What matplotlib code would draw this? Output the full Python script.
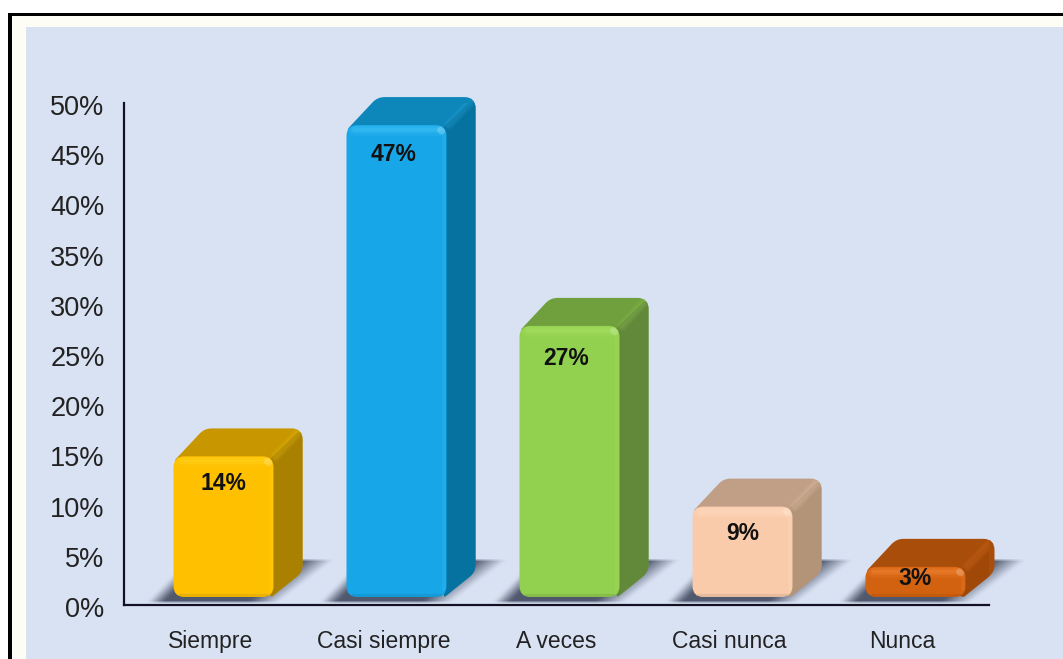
import numpy as np
import matplotlib
matplotlib.use("Agg")
import matplotlib.pyplot as plt
from matplotlib.patches import PathPatch, Rectangle
from matplotlib.path import Path
from matplotlib.transforms import ScaledTranslation

# Datos
categorias = ["Siempre", "Casi siempre", "A veces", "Casi nunca", "Nunca"]
valores = [14, 47, 27, 9, 3]
etiquetas = ["14%", "47%", "27%", "9%", "3%"]
ticks_y = [0, 5, 10, 15, 20, 25, 30, 35, 40, 45, 50]

# Colores de cada barra: frente, tapa, lateral, brillo
frente = ["#ffc000", "#17a6e8", "#92d050", "#f9cbaa", "#d2620f"]
tapa = ["#c89700", "#0d86ba", "#709f3e", "#c19f86", "#a94d0b"]
lateral = ["#a98000", "#06729f", "#62893a", "#b39479", "#a04807"]
brillo = ["#ffd21a", "#3cc0f5", "#a6e060", "#ffdcc0", "#ee8030"]
# Posición del texto respecto al borde superior y al centro del frente (px)
caida_texto = [27, 29, 33, 27, 12]
corrimiento_texto = [0, -3, -3, 0, 0]

W, H = 1063, 659
FONDO = "#d9e2f3"
BASE = 0.8        # la barra arranca un poco por encima del eje
ANCHO_PX = 100
PROF_PX = 28
DESP_PX = 13      # desplazamiento del frente respecto a la categoría

plt.rcParams["font.family"] = ["Liberation Sans", "DejaVu Sans"]

fig = plt.figure(figsize=(W / 100, H / 100), dpi=100, facecolor="white")


def fx(px):
    return px / W


def fy(py):
    return 1 - py / H


# Marco negro, franja clara y panel azul
for x0, y0, color in [(8, 13, "black"), (12, 16, "#fdfdf6"), (26, 27, FONDO)]:
    fig.add_artist(Rectangle((fx(x0), 0), 1 - fx(x0), fy(y0), transform=fig.transFigure,
                             facecolor=color, edgecolor="none", zorder=-5))

# Capa inferior en píxeles para las sombras
capa = fig.add_axes([0, 0, 1, 1], facecolor="none", zorder=1)
capa.axis("off")

ax = fig.add_axes([fx(124), fy(605), fx(865), (605 - 103) / H], facecolor="none", zorder=2)
ax.set_xlim(-0.5, 4.5)
ax.set_ylim(0, 50)
sx = 865 / 5
sy = (605 - 103) / 50


def a_px(x, y):
    return 124 + (x + 0.5) * sx, 605 - y * sy


def a_datos(px, py):
    return (px - 124) / sx - 0.5, (605 - py) / sy


def redondeado(puntos, radio):
    # Polígono con esquinas redondeadas, puntos en píxeles
    pts = [np.array(p, dtype=float) for p in puntos]
    verts, codes = [], []
    n = len(pts)
    for i in range(n):
        p, prev, sig = pts[i], pts[i - 1], pts[(i + 1) % n]
        r = radio[i] if np.iterable(radio) else radio
        a = p + (prev - p) / np.linalg.norm(prev - p) * r
        b = p + (sig - p) / np.linalg.norm(sig - p) * r
        verts.append(a)
        codes.append(Path.MOVETO if i == 0 else Path.LINETO)
        verts += [p, b]
        codes += [Path.CURVE3, Path.CURVE3]
    verts.append(verts[0])
    codes.append(Path.CLOSEPOLY)
    return Path([a_datos(*v) for v in verts], codes)


def recortar(artista, clip):
    # clip_on tiene que quedar activo para que el recorte surta efecto
    artista.set_clip_on(True)
    artista.set_clip_path(clip)


def trazo(p0, p1, color, lw, alfa_linea, z, clip):
    linea, = ax.plot(*zip(a_datos(*p0), a_datos(*p1)), color=color, lw=lw, alpha=alfa_linea,
                     solid_capstyle="round", zorder=z)
    recortar(linea, clip)
    return linea


# Sombras proyectadas en el suelo
yy, xx = np.mgrid[0:H, 0:W]
alfa = np.zeros((H, W))
for i, v in enumerate(valores):
    cx, _ = a_px(i, 0)
    izq = cx + DESP_PX - ANCHO_PX / 2
    der = izq + ANCHO_PX
    y_fondo, y_alto = 601.0, 560.0
    t = np.clip((y_fondo - yy) / (y_fondo - y_alto), 0, 1)
    borde_izq = izq - 26 + t * 40
    borde_der = der + 5 + t * 54
    dentro = (yy >= y_alto) & (yy <= y_fondo) & (xx >= borde_izq) & (xx <= borde_der)
    # se desvanece hacia los extremos
    caida = np.clip((borde_der - xx) / 30, 0, 1) * np.clip((xx - borde_izq) / 16, 0, 1)
    alfa = np.maximum(alfa, dentro * caida * 0.95)
nucleo = np.ones(5) / 5
for _ in range(2):
    alfa = np.apply_along_axis(lambda f: np.convolve(f, nucleo, mode="same"), 1, alfa)
alfa = np.apply_along_axis(lambda c: np.convolve(c, np.ones(3) / 3, mode="same"), 0, alfa)
rgba = np.zeros((H, W, 4))
rgba[..., :3] = np.array([0x48, 0x51, 0x66]) / 255
rgba[..., 3] = alfa
capa.imshow(rgba, extent=(0, W, H, 0), aspect="auto", interpolation="bilinear")
capa.set_xlim(0, W)
capa.set_ylim(H, 0)

# Barras
for i, v in enumerate(valores):
    cx, y_base = a_px(i, BASE)
    _, y_tope = a_px(i, BASE + v)
    izq = cx + DESP_PX - ANCHO_PX / 2
    der = izq + ANCHO_PX
    d = PROF_PX

    # Silueta trasera con el color de la tapa y lateral recortado dentro
    silueta = [(izq + 1, y_tope + 4), (izq + d + 3, y_tope - d), (der + d + 1, y_tope - d),
               (der + d + 1, y_base - d + 3), (der - 2, y_base)]
    fondo_barra = PathPatch(redondeado(silueta, [2, 7, 11, 7, 1]), facecolor=tapa[i],
                            edgecolor="none", clip_on=False, zorder=3)
    ax.add_patch(fondo_barra)
    lado = [(der - 3, y_tope + 2), (der + d - 4, y_tope - d + 4), (der + d + 6, y_tope - d + 4),
            (der + d + 6, y_base), (der - 3, y_base)]
    lado_patch = PathPatch(redondeado(lado, 1), facecolor=lateral[i], edgecolor="none", zorder=3.2)
    ax.add_patch(lado_patch)
    recortar(lado_patch, fondo_barra)
    # arista suave entre tapa y lateral
    for lw, al in [(7, 0.10), (4, 0.12)]:
        trazo((der + 2, y_tope), (der + d - 4, y_tope - d + 5), brillo[i], lw, al, 3.5, fondo_barra)

    caja = [(izq, y_tope), (der, y_tope), (der, y_base), (izq, y_base)]
    frente_patch = PathPatch(redondeado(caja, 11), facecolor=frente[i], edgecolor="none",
                             clip_on=False, zorder=4)
    ax.add_patch(frente_patch)
    # brillo del borde superior, derecho e inferior
    for lw, al in [(9, 0.22), (5, 0.35), (2.5, 0.4)]:
        trazo((izq + 7, y_tope + 4), (der - 7, y_tope + 4), brillo[i], lw, al, 5, frente_patch)
    trazo((der - 3, y_tope + 6), (der - 3, y_base - 8), brillo[i], 3, 0.25, 5, frente_patch)
    trazo((der - 6, y_tope + 5), (der - 5, y_tope + 6), "#ffffff", 5, 0.2, 5, frente_patch)
    trazo((izq + 6, y_base - 1), (der - 6, y_base - 1), tapa[i], 3, 0.35, 5, frente_patch)

    tx, ty = a_datos(cx + DESP_PX + corrimiento_texto[i], y_tope + caida_texto[i])
    ax.text(tx, ty, etiquetas[i], ha="center", va="center", fontsize=16.5, fontweight="bold",
            color="#111111", zorder=6)

# Ejes
ax.set_xticks(range(len(categorias)))
ax.set_xticklabels(categorias, fontsize=16.5, color="#222222")
ax.set_yticks(ticks_y)
ax.set_yticklabels([f"{t}%" for t in ticks_y], fontsize=19.5, color="#222222")
ax.tick_params(axis="both", length=0)
ax.tick_params(axis="x", pad=18)
ax.tick_params(axis="y", pad=14)
# Las etiquetas del eje y van un poco más abajo que la marca
bajar = ScaledTranslation(0, -1.5 / 72, fig.dpi_scale_trans)
for etiqueta in ax.get_yticklabels():
    etiqueta.set_transform(etiqueta.get_transform() + bajar)
for lado_eje in ("top", "right"):
    ax.spines[lado_eje].set_visible(False)
for lado_eje in ("left", "bottom"):
    ax.spines[lado_eje].set_color("#111122")
    ax.spines[lado_eje].set_linewidth(1.6)

plt.savefig("out.png", dpi=100, facecolor="white")
